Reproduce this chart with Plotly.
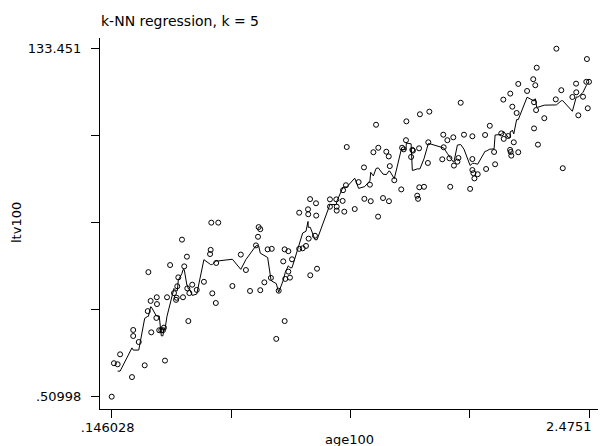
import numpy as np
import plotly.graph_objects as go

age100 = [0.146, 0.157, 0.175, 0.187, 0.245, 0.251, 0.251, 0.278, 0.307, 0.325,
          0.322, 0.336, 0.339, 0.366, 0.367, 0.364, 0.378, 0.388, 0.396, 0.401,
          0.406, 0.416, 0.431, 0.450, 0.460, 0.463, 0.466, 0.471, 0.489, 0.494,
          0.500, 0.513, 0.515, 0.520, 0.525, 0.539, 0.561, 0.596, 0.632, 0.666,
          0.629, 0.626, 0.637, 0.654, 0.656, 0.735, 0.776, 0.801, 0.821, 0.850,
          0.860, 0.863, 0.871, 0.871, 0.891, 0.907, 0.927, 0.923, 0.949, 0.961,
          0.983, 0.990, 0.990, 0.993, 1.008, 1.008, 1.016, 1.026, 1.061, 1.061,
          1.078, 1.094, 1.107, 1.104, 1.105, 1.114, 1.115, 1.138, 1.143, 1.144,
          1.148, 1.211, 1.211, 1.242, 1.244, 1.244, 1.281, 1.275, 1.289, 1.273,
          1.293, 1.332, 1.351, 1.377, 1.379, 1.406, 1.410, 1.423, 1.436, 1.446,
          1.447, 1.470, 1.486, 1.498, 1.499, 1.503, 1.525, 1.559, 1.563, 1.571,
          1.582, 1.584, 1.607, 1.613, 1.616, 1.637, 1.641, 1.646, 1.647, 1.650,
          1.670, 1.689, 1.691, 1.696, 1.759, 1.764, 1.766, 1.784, 1.794, 1.798,
          1.813, 1.816, 1.833, 1.838, 1.849, 1.865, 1.895, 1.906, 1.906, 1.906,
          1.911, 1.916, 1.932, 1.968, 1.973, 1.991, 2.012, 2.017, 2.047, 2.057,
          2.059, 2.081, 2.090, 2.093, 2.096, 2.091, 2.101, 2.108, 2.122, 2.130,
          2.130, 2.173, 2.203, 2.207, 2.207, 2.213, 2.217, 2.220, 2.226, 2.257,
          2.313, 2.316, 2.340, 2.347, 2.394, 2.412, 2.413, 2.423, 2.446, 2.462,
          2.4751, 2.465, 2.469]

ltv100 = [0.51, 13.3, 12.9, 16.7, 8.0, 26.0, 23.7, 21.4, 12.5, 48.1,
          33.2, 37.1, 25.1, 38.5, 35.9, 30.6, 25.9, 25.9, 25.9, 26.9,
          14.3, 38.5, 50.8, 40.1, 37.5, 38.3, 42.7, 46.1, 60.5, 38.5,
          50.3, 54.0, 41.9, 29.4, 40.1, 43.3, 41.3, 44.4, 67.0, 67.0,
          56.6, 55.0, 40.0, 36.3, 51.6, 42.8, 54.8, 48.9, 40.9, 58.3,
          61.6, 65.3, 64.5, 41.2, 44.2, 56.8, 57.0, 45.9, 22.6, 41.0,
          52.2, 56.8, 29.4, 45.5, 56.1, 48.3, 46.0, 53.0, 70.8, 57.0,
          57.2, 58.1, 60.9, 72.1, 70.2, 76.0, 46.9, 62.0, 74.4, 69.7,
          49.4, 75.9, 73.1, 75.9, 73.1, 71.6, 71.2, 79.4, 81.3, 75.3,
          95.9, 72.2, 82.5, 88.1, 76.1, 81.5, 75.2, 93.9, 104.4, 69.3,
          95.6, 76.4, 94.1, 92.3, 75.2, 88.6, 83.2, 79.7, 95.6, 95.0,
          98.5, 105.7, 92.1, 94.8, 94.5, 77.3, 76.1, 95.4, 80.5, 108.4,
          80.7, 89.8, 97.7, 109.4, 91.2, 100.6, 95.8, 98.5, 91.6, 80.7,
          99.6, 88.8, 90.3, 91.7, 112.8, 100.6, 79.9, 100.0, 91.3, 87.1,
          85.9, 83.9, 85.5, 100.5, 87.5, 104.0, 94.0, 89.3, 101.1, 114.0,
          99.0, 100.1, 94.8, 94.0, 92.6, 116.3, 111.3, 97.7, 108.9, 93.9,
          120.0, 117.3, 121.8, 103.0, 113.0, 119.5, 110.0, 126.2, 96.8, 106.9,
          114.1, 133.451, 117.6, 87.8, 115.0, 120.1, 116.8, 108.0, 115.1, 120.8,
          120.8, 129.5, 110.7]

K = 5
x_min, x_max = 0.146028, 2.4751
y_min, y_max = 0.50998, 133.451
x_tick_text = [".146028", "", "", "", ""]
x_last_label = "2.4751"
y_tick_text = [".50998", "", "", "", "133.451"]
title_text = "k-NN regression, k = 5"
x_title = "age100"
y_title = "ltv100"

# k-NN fit: mean of the K nearest observations in x,
# evaluated at each observation except the (K-1)/2 at each end
x = np.array(age100)
y = np.array(ltv100)
order = np.argsort(x, kind="stable")
xs, ys = x[order], y[order]
h = K // 2
fit_x, fit_y = [], []
for i in range(h, len(xs) - h):
    idx = np.argsort(np.abs(xs - xs[i]), kind="stable")[:K]
    fit_x.append(xs[i])
    fit_y.append(ys[idx].mean())

FAM = "DejaVu Sans, Verdana, sans-serif"
font = dict(family=FAM, size=13, color="black")

fig = go.Figure()
fig.add_trace(go.Scatter(x=x, y=y, mode="markers",
                         marker=dict(symbol="circle-open", size=5, color="black",
                                     line=dict(width=1, color="black")),
                         showlegend=False, hoverinfo="skip"))
fig.add_trace(go.Scatter(x=fit_x, y=fit_y, mode="lines",
                         line=dict(color="black", width=1),
                         showlegend=False, hoverinfo="skip"))

xt = list(np.linspace(x_min, x_max, 5))
yt = list(np.linspace(y_min, y_max, 5))

# plot area: 100..598 px horizontally, 38..409 px vertically
L, R, T, B = 100, 598, 38, 409
W, H = R - L, B - T
def px_x(p):
    return (p - L) / W
def px_y(p):
    return (B - p) / H

fig.update_layout(
    width=601, height=446,
    margin=dict(l=L, r=601 - R, t=T, b=446 - B, autoexpand=False),
    paper_bgcolor="white", plot_bgcolor="white",
    font=font,
    xaxis=dict(range=[0.08894, 2.51903], autorange=False,
               tickvals=xt, ticktext=x_tick_text, ticks="outside", ticklen=8,
               tickcolor="black", tickwidth=1, showline=True, linecolor="black",
               linewidth=1, showgrid=False, zeroline=False, mirror=False,
               automargin=False, tickfont=dict(size=13), ticklabelstandoff=-2,
               ticklabelshift=-4),
    yaxis=dict(range=[-4.1888, 137.539], autorange=False,
               tickvals=yt, ticktext=y_tick_text, ticks="outside", ticklen=8,
               tickcolor="black", tickwidth=1, showline=True, linecolor="black",
               linewidth=1, showgrid=False, zeroline=False, mirror=False,
               automargin=False, tickfont=dict(size=13), ticklabelstandoff=7),
    annotations=[
        dict(text=title_text, xref="paper", yref="paper", x=px_x(99), y=px_y(21),
             xanchor="left", yanchor="middle", showarrow=False,
             font=dict(family=FAM, size=14, color="black")),
        dict(text=x_last_label, xref="x", yref="paper", x=x_max, y=px_y(426),
             xanchor="right", yanchor="middle", xshift=4.5, showarrow=False,
             font=dict(family=FAM, size=13, color="black")),
        dict(text=x_title, xref="paper", yref="paper", x=px_x(349), y=px_y(439),
             xanchor="center", yanchor="middle", showarrow=False,
             font=dict(family=FAM, size=13, color="black")),
        dict(text=y_title, xref="paper", yref="paper", x=px_x(16), y=px_y(223),
             xanchor="center", yanchor="middle", showarrow=False, textangle=-90,
             font=dict(family=FAM, size=13, color="black")),
    ],
)

fig.write_html("out.html",
               config={"displayModeBar": False, "staticPlot": True},
               post_script="document.body.style.margin='0';"
                           "document.body.style.overflow='hidden';")
